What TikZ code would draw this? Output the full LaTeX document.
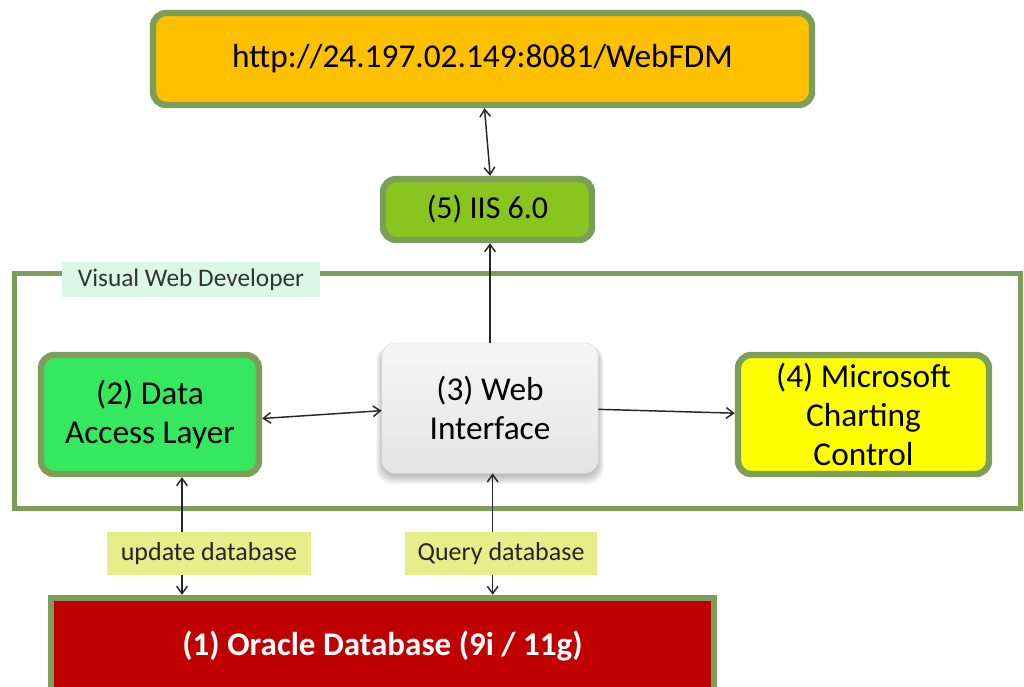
\documentclass[tikz,border=0pt]{standalone}
\usepackage{fontspec}
\setmainfont{Carlito}
\usetikzlibrary{arrows.meta,calc}
\definecolor{bordergreen}{RGB}{125,158,88}
\definecolor{urlfill}{RGB}{255,192,0}
\definecolor{iisfill}{RGB}{137,196,31}
\definecolor{dalfill}{RGB}{53,232,96}
\definecolor{chartfill}{RGB}{255,255,0}
\definecolor{orafill}{RGB}{192,0,0}
\definecolor{lblfill}{RGB}{230,238,140}
\definecolor{vwdfill}{RGB}{219,247,230}
\definecolor{webtop}{RGB}{246,246,246}
\definecolor{webbot}{RGB}{228,228,228}
\tikzset{
  greenbox/.style={draw=bordergreen, line width=4.8pt, rounded corners=10pt,
    align=center, inner sep=0pt, font=\fontsize{25}{29}\selectfont},
  webbox/.style={draw=gray!20, line width=0.6pt, rounded corners=10pt,
    top color=webtop, bottom color=webbot, align=center, inner sep=0pt,
    font=\fontsize{25}{29}\selectfont},
  dblabel/.style={fill=lblfill, inner sep=0pt, text=black!85, font=\fontsize{19.5}{23}\selectfont},
  arr/.style={line width=1.1pt, draw=black!85,
    arrows={Straight Barb[length=5.5pt,width=8pt]-Straight Barb[length=5.5pt,width=8pt]}},
  arrhead/.style={line width=1.1pt, draw=black!85,
    arrows={-Straight Barb[length=5.5pt,width=8pt]}},
}
\begin{document}
\begin{tikzpicture}[x=0.75pt,y=-0.75pt]
\useasboundingbox (0,0) rectangle (1024,686);

% frame of Visual Web Developer
\draw[bordergreen, line width=3.75pt] (14,273) rectangle (1020,508);
\node[fill=vwdfill, minimum width=258*0.75pt, minimum height=35*0.75pt, inner sep=0pt,
  font=\fontsize{19}{22}\selectfont, text=black!80] (vwd) at (191,279.5) {Visual Web Developer};

% boxes
\node[greenbox, fill=urlfill, minimum width=659*0.75pt, minimum height=92*0.75pt] (url) at (482.5,59) {http://24.197.02.149:8081/WebFDM};
\node[greenbox, fill=iisfill, minimum width=209*0.75pt, minimum height=61*0.75pt, font=\fontsize{24}{28}\selectfont] (iis) at (487.5,209.5) {(5) IIS 6.0};
\node[greenbox, fill=dalfill, minimum width=218*0.75pt, minimum height=119*0.75pt] (dal) at (150,414.5) {(2) Data\\Access Layer};
\node[greenbox, fill=chartfill, minimum width=251*0.75pt, minimum height=119*0.75pt] (chart) at (863.5,414.5) {(4) Microsoft\\Charting\\Control};

% shadow of web interface
\foreach \s in {0,...,7}{
  \fill[black, opacity=0.035, rounded corners=12pt]
    (382-\s*0.8, 347-\s*0.3) rectangle (598+\s*0.8, 476+\s*1.2);
}
\node[webbox, minimum width=216*0.75pt, minimum height=130*0.75pt] (web) at (490,408) {(3) Web\\Interface};

\node[draw=bordergreen, line width=4.8pt, fill=orafill, text=white, inner sep=0pt,
  minimum width=663*0.75pt, minimum height=100*0.75pt,
  font=\bfseries\fontsize{24.8}{28}\selectfont] (ora) at (382.5,648) {\raisebox{7.5pt}{(1) Oracle Database (9i / 11g)}};

% connectors
\draw[arr] ([xshift=1.5pt]url.south) -- ([xshift=2pt]iis.north);
\draw[arrhead] (web.north) -- (web.north |- iis.south);
\draw[arr] ([yshift=-3pt]dal.east) -- ([yshift=-2pt]web.west);
\draw[arrhead] ([yshift=-1pt]web.east) -- ([yshift=1pt]chart.west);
\draw[arr] ([xshift=24pt]dal.south) -- ([xshift=24pt]dal.south |- ora.north);
\draw[arr] ([xshift=2pt]web.south) -- ([xshift=2pt]web.south |- ora.north);

% labels
\node[dblabel, minimum width=204*0.75pt, minimum height=43*0.75pt] (upd) at (209,553.5) {update database};
\node[dblabel, minimum width=192*0.75pt, minimum height=43*0.75pt] (qry) at (501,553.5) {Query database};
\end{tikzpicture}
\end{document}
